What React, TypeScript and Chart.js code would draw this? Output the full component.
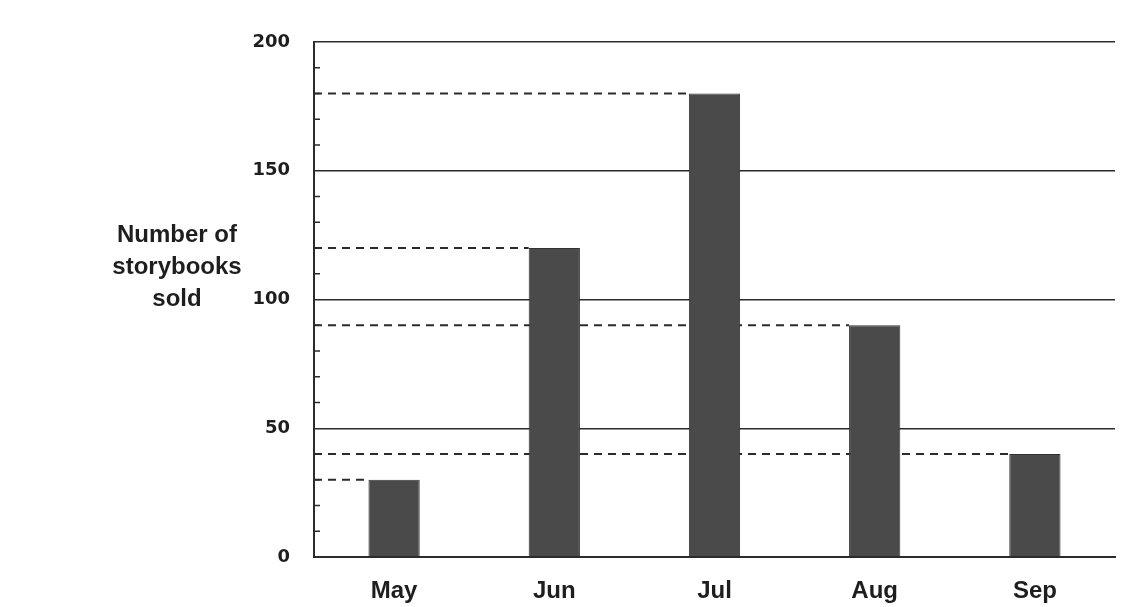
import { useEffect, useRef } from "react"
import { Chart, registerables } from "chart.js"

Chart.register(...registerables)

const months = ["May", "Jun", "Jul", "Aug", "Sep"]
const booksSold = [30, 120, 180, 90, 40]
const titleLines = ["Number of", "storybooks", "sold"]

const INK = "#2b2b2b"

// dashed guide from the axis to the left side of each bar, drawn under the bars
const guideLines = {
  id: "guideLines",
  beforeDatasetsDraw(chart: any) {
    const { ctx, chartArea } = chart
    const y = chart.scales.y
    const meta = chart.getDatasetMeta(0)
    ctx.save()
    ctx.strokeStyle = INK
    ctx.lineWidth = 2
    ctx.setLineDash([8, 6])
    meta.data.forEach((bar: any, i: number) => {
      const py = y.getPixelForValue(booksSold[i])
      ctx.beginPath()
      ctx.moveTo(chartArea.left, py)
      ctx.lineTo(bar.x - bar.width / 2, py)
      ctx.stroke()
    })
    ctx.restore()
  },
}

// small tick marks on the inner side of the y axis
const minorTicks = {
  id: "minorTicks",
  afterDatasetsDraw(chart: any) {
    const { ctx, chartArea } = chart
    const y = chart.scales.y
    ctx.save()
    ctx.strokeStyle = INK
    ctx.lineWidth = 1.5
    y.ticks.forEach((t: any) => {
      if (t.value % 50 === 0) return
      const py = y.getPixelForValue(t.value)
      ctx.beginPath()
      ctx.moveTo(chartArea.left, py)
      ctx.lineTo(chartArea.left + 6, py)
      ctx.stroke()
    })
    ctx.restore()
  },
}

const sideTitle = {
  id: "sideTitle",
  afterDraw(chart: any) {
    const { ctx } = chart
    ctx.save()
    ctx.fillStyle = "#1e1e1e"
    ctx.font = "bold 24px 'Liberation Sans', Arial, sans-serif"
    ctx.textAlign = "center"
    ctx.textBaseline = "middle"
    titleLines.forEach((line, i) => {
      ctx.fillText(line, 177, 235 + i * 32)
    })
    ctx.restore()
  },
}

export default function App() {
  const canvasRef = useRef<HTMLCanvasElement | null>(null)

  useEffect(() => {
    document.body.style.margin = "0"
    if (!canvasRef.current) return
    const chart = new Chart(canvasRef.current, {
      type: "bar",
      data: {
        labels: months,
        datasets: [
          {
            data: booksSold,
            backgroundColor: "#4a4a4a",
            borderColor: "#333333",
            borderWidth: 1,
            barPercentage: 0.32,
            categoryPercentage: 1,
          },
        ],
      },
      options: {
        animation: false,
        responsive: true,
        maintainAspectRatio: false,
        layout: { padding: { top: 42, right: 10, bottom: 0, left: 0 } },
        plugins: {
          legend: { display: false },
          tooltip: { enabled: false },
        },
        scales: {
          x: {
            afterFit(scale: any) {
              scale.height = 50
            },
            grid: { display: false },
            border: { color: INK, width: 2 },
            ticks: {
              color: "#1e1e1e",
              padding: 12,
              font: { family: "'Liberation Sans', Arial, sans-serif", size: 24, weight: "bold" },
            },
          },
          y: {
            min: 0,
            max: 200,
            afterFit(scale: any) {
              scale.width = 314
            },
            grid: {
              drawTicks: false,
              color: (c: any) => (c.tick && c.tick.value % 50 === 0 ? INK : "rgba(0,0,0,0)"),
              lineWidth: 1.5,
            },
            border: { color: INK, width: 2 },
            ticks: {
              stepSize: 10,
              autoSkip: false,
              padding: 24,
              color: "#1e1e1e",
              font: { family: "'DejaVu Sans', Verdana, sans-serif", size: 18, weight: "bold" },
              callback: (v: any) => (Number(v) % 50 === 0 ? String(v) : ""),
            },
          },
        },
      },
      plugins: [guideLines, minorTicks, sideTitle],
    })
    return () => chart.destroy()
  }, [])

  return (
    <div style={{ width: 1125, height: 607, background: "#fff" }}>
      <canvas ref={canvasRef}></canvas>
    </div>
  )
}
